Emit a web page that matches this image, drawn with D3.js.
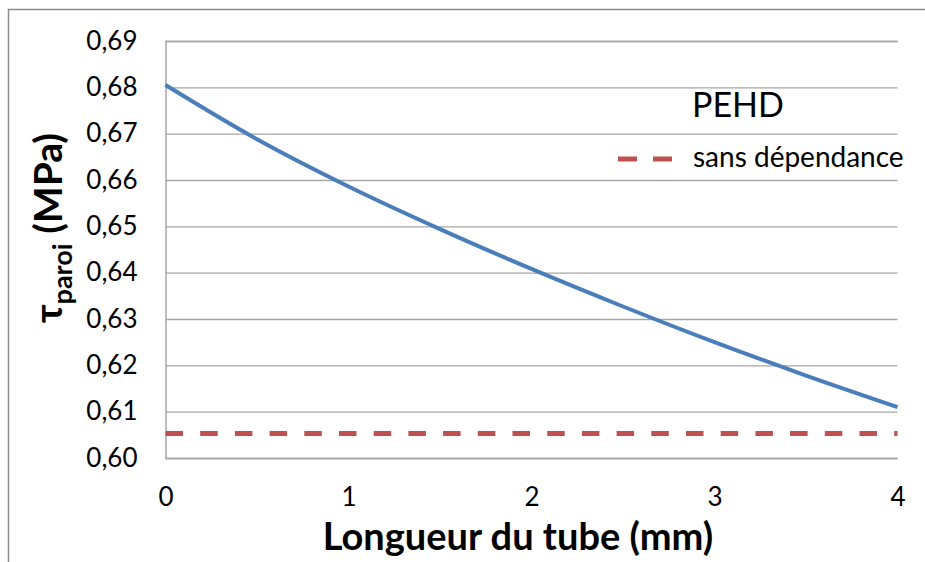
<!DOCTYPE html>
<html>
<head>
<meta charset="utf-8">
<script src="https://cdn.jsdelivr.net/npm/d3@7"></script>
<style>
  html, body { margin: 0; padding: 0; background: #fff; }
  svg { display: block; font-family: Lato, "Open Sans", sans-serif; }
</style>
</head>
<body>
<svg id="chart" width="925" height="562"></svg>
<script>
// Wall shear stress along the tube (PEHD)
const lengthMm   = [0, 0.5, 1, 1.5, 2, 2.5, 3, 3.5, 4];
const tauWall    = [0.6805, 0.6688, 0.6586, 0.6494, 0.6408, 0.6327, 0.6250, 0.6178, 0.6110];
const tauConstant = 0.6053;          // "sans dépendance" reference level
const yTicks = [0.60, 0.61, 0.62, 0.63, 0.64, 0.65, 0.66, 0.67, 0.68, 0.69];
const xTicks = [0, 1, 2, 3, 4];
const legendTitle = "PEHD";
const legendLabel = "sans dépendance";
const xTitle = "Longueur du tube (mm)";

const svg = d3.select("#chart");
const plot = { left: 165.5, right: 897.5, top: 41, bottom: 458 };

const x = d3.scaleLinear().domain([0, 4]).range([plot.left, plot.right]);
const y = d3.scaleLinear().domain([0.60, 0.69]).range([plot.bottom, plot.top]);

// outer frame
svg.append("rect")
  .attr("x", 8.5).attr("y", 9.5).attr("width", 940).attr("height", 580)
  .attr("fill", "none").attr("stroke", "#8c8c8c").attr("stroke-width", 1.5);

// horizontal gridlines + left axis with tick labels
const yAxis = d3.axisLeft(y).tickValues(yTicks)
  .tickSize(-(plot.right - plot.left)).tickPadding(28)
  .tickFormat(d => d3.format(".2f")(d).replace(".", ","));
const gy = svg.append("g").attr("transform", `translate(${plot.left},0)`).call(yAxis);
gy.select(".domain").attr("stroke", "#9a9a9a").attr("stroke-width", 1.3);
gy.selectAll(".tick line").attr("stroke", "#a6a6a6").attr("stroke-width", 1.3);
gy.selectAll(".tick text").attr("font-size", 26).attr("fill", "#000")
  .attr("font-family", "Lato, sans-serif");

// bottom tick labels (no axis line)
const xAxis = d3.axisBottom(x).tickValues(xTicks).tickSize(0).tickPadding(30)
  .tickFormat(d3.format("d"));
const gx = svg.append("g").attr("transform", `translate(0,${plot.bottom})`).call(xAxis);
gx.select(".domain").remove();
gx.selectAll(".tick text").attr("font-size", 26).attr("fill", "#000")
  .attr("font-family", "Lato, sans-serif");

// constant reference level
svg.append("line")
  .attr("x1", x(0)).attr("x2", x(4))
  .attr("y1", y(tauConstant)).attr("y2", y(tauConstant))
  .attr("stroke", "#c0504d").attr("stroke-width", 5)
  .attr("stroke-dasharray", "17.5 17.2");

// computed wall stress curve
const line = d3.line().x((d, i) => x(lengthMm[i])).y(d => y(d)).curve(d3.curveMonotoneX);
svg.append("path").datum(tauWall)
  .attr("d", line)
  .attr("fill", "none").attr("stroke", "#4a7ebb").attr("stroke-width", 4);

// legend
svg.append("text").attr("x", 692).attr("y", 117)
  .attr("font-size", 34).attr("fill", "#000").text(legendTitle);
svg.append("line").attr("x1", 618).attr("x2", 673).attr("y1", 159).attr("y2", 159)
  .attr("stroke", "#c0504d").attr("stroke-width", 5).attr("stroke-dasharray", "19 16");
svg.append("text").attr("x", 693).attr("y", 167)
  .attr("font-size", 28).attr("fill", "#000").text(legendLabel);

// axis titles
svg.append("text").attr("x", 518).attr("y", 550).attr("text-anchor", "middle")
  .attr("font-size", 38).attr("font-weight", "bold").attr("fill", "#000").text(xTitle);

const yt = svg.append("text")
  .attr("transform", "translate(62,228) rotate(-90)")
  .attr("text-anchor", "middle").attr("font-weight", "bold").attr("fill", "#000");
yt.append("tspan").attr("font-size", 39).text("τ");
yt.append("tspan").attr("font-size", 27).attr("dy", 10).text("paroi");
yt.append("tspan").attr("font-size", 39).attr("dy", -10).text(" (MPa)");
</script>
</body>
</html>
